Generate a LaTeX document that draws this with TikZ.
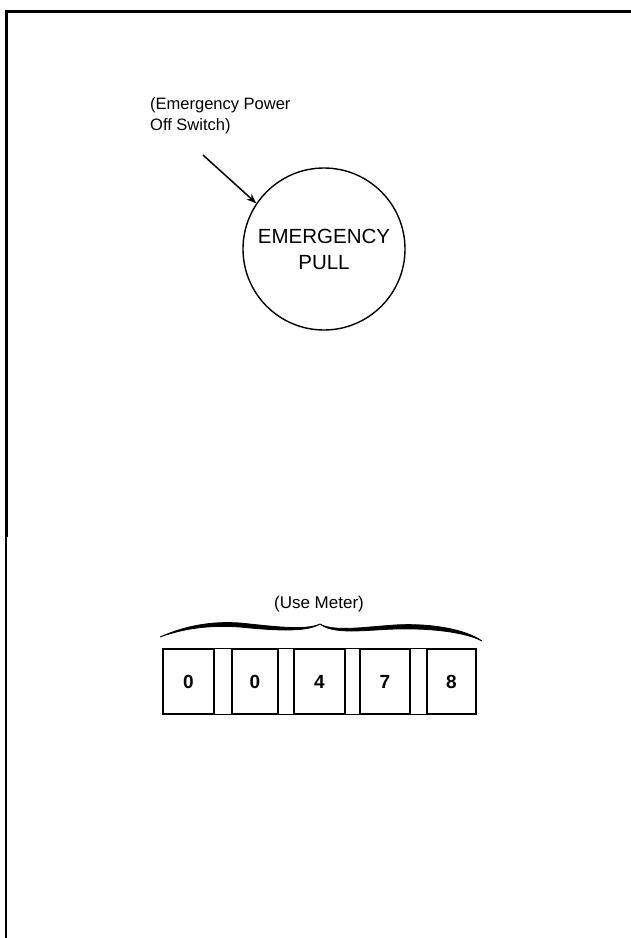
\documentclass[tikz,border=0pt]{standalone}
\usepackage{fontspec}
\setmainfont{Liberation Sans}
\usetikzlibrary{arrows.meta}

\begin{document}
\begin{tikzpicture}[
    x=1pt, y=-1pt,
    digbox/.style={rectangle, draw, line width=1.2pt, minimum width=49pt,
                   minimum height=65pt, inner sep=0pt,
                   font=\fontsize{19}{22}\selectfont\bfseries},
    lbl/.style={inner sep=0pt, font=\fontsize{16.5}{21}\selectfont},
    >=Stealth
]
\useasboundingbox (0,0) rectangle (631,938);

% --- frame ---
\draw[line width=3pt] (631,11) -- (6,11) -- (6,537);
\draw[line width=1.5pt] (6,537) -- (6,938);

% --- emergency switch ---
\node[circle, draw, line width=1.4pt, minimum size=162pt, inner sep=0pt,
      align=center, font=\fontsize{20.5}{26}\selectfont] (switch) at (324,249)
      {EMERGENCY\\PULL};
\node[lbl, anchor=west, align=left] (swlbl) at (150,116)
      {(Emergency Power\\Off Switch)};
\coordinate (swtail) at (203,155);
\draw[->, line width=1.5pt] (swtail) -- (switch.146);

% --- use meter ---
\node[lbl, font=\fontsize{17}{20}\selectfont] (mlbl) at (319,604) {(Use Meter)};
\fill[line width=0.8pt, draw] (160,637) .. controls (185,626) and (210,621) .. (240,623)
      .. controls (270,626) and (305,631) .. (320,624)
      .. controls (306,633) and (270,630) .. (240,627)
      .. controls (210,625) and (185,628) .. (160,637) -- cycle;
\fill[line width=0.8pt, draw] (320,624) .. controls (334,632) and (365,627) .. (395,625)
      .. controls (430,623) and (465,629) .. (482,641)
      .. controls (465,632) and (430,628) .. (395,629)
      .. controls (365,630) and (334,635) .. (320,624) -- cycle;

\node[digbox, minimum width=51pt] (d1) at (188.5,681.5) {0};
\node[digbox, minimum width=46pt] (d2) at (255,681.5) {0};
\node[digbox, minimum width=51pt] (d3) at (319.5,681.5) {4};
\node[digbox, minimum width=50pt] (d4) at (385,681.5) {7};
\node[digbox, minimum width=49pt] (d5) at (451.5,681.5) {8};
\draw[line width=1.2pt] (d1.north east) rectangle (d2.south west);
\draw[line width=1.2pt] (d2.north east) rectangle (d3.south west);
\draw[line width=1.2pt] (d3.north east) rectangle (d4.south west);
\draw[line width=1.2pt] (d4.north east) rectangle (d5.south west);

\end{tikzpicture}
\end{document}
